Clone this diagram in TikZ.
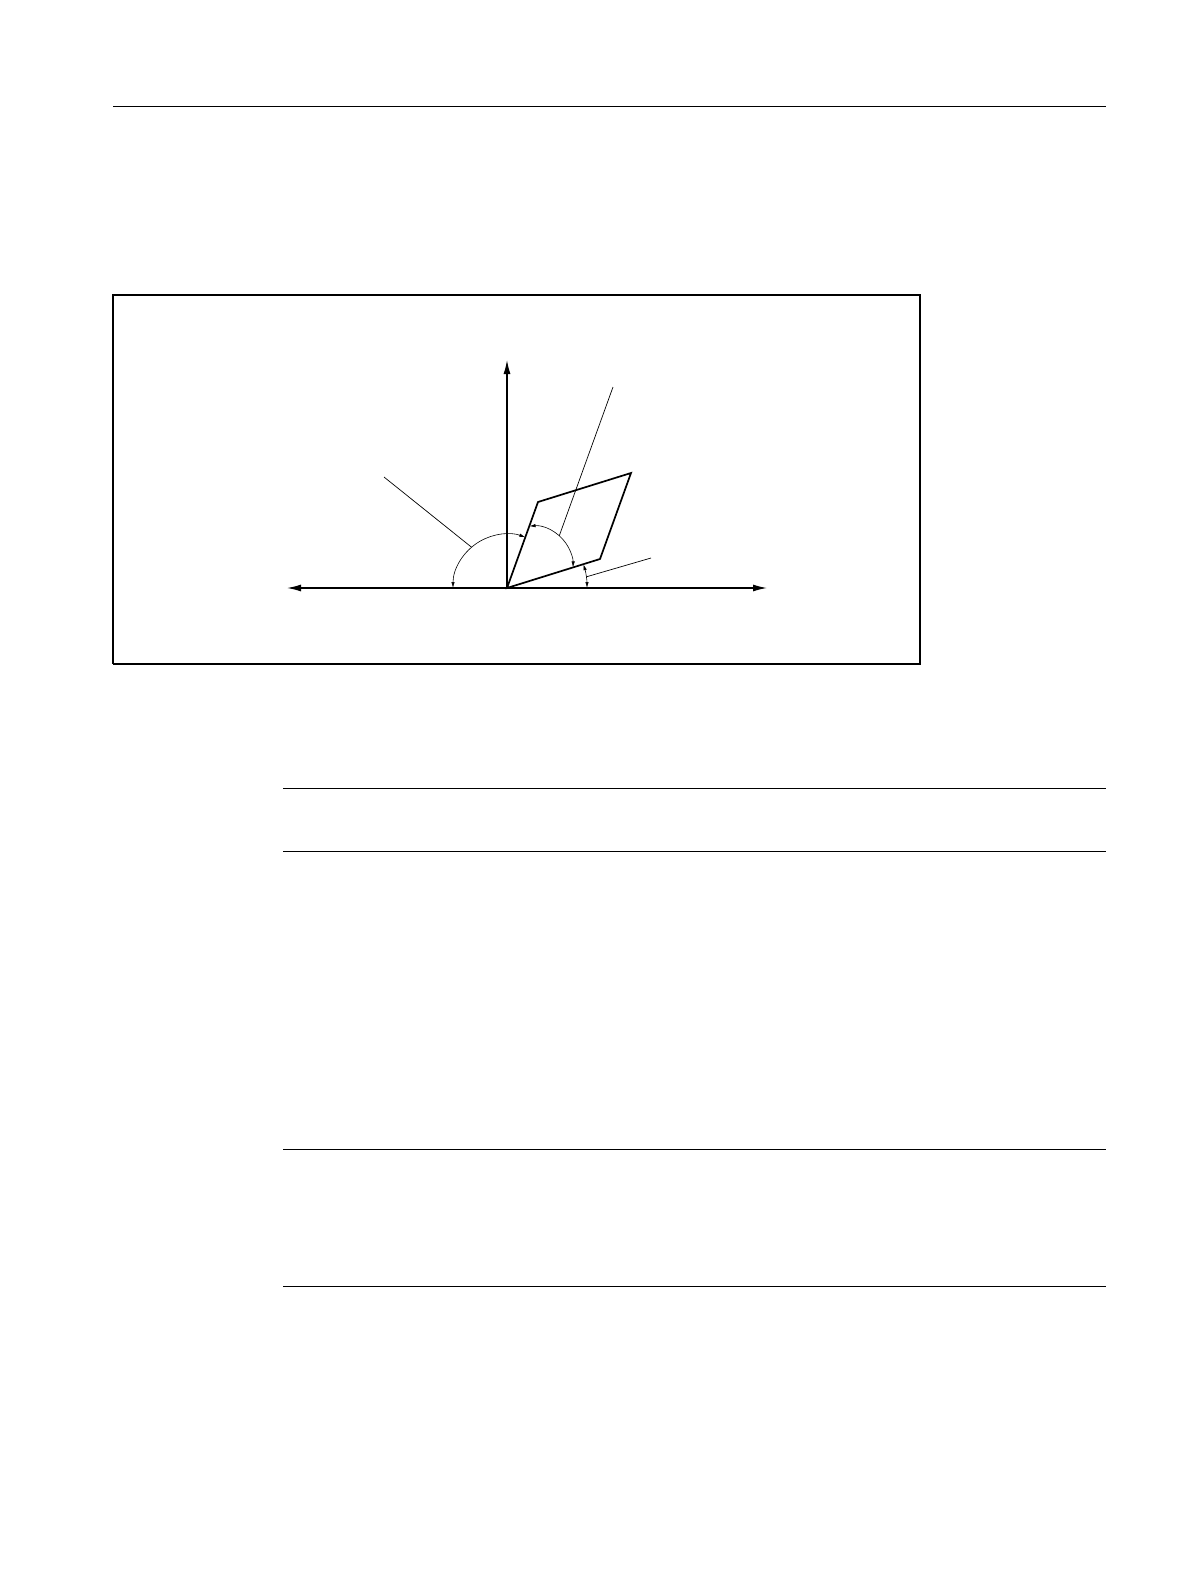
\documentclass[tikz,border=0pt]{standalone}
\usetikzlibrary{arrows.meta,calc}
\tikzset{>=latex}
\tikzset{
  bigtip/.tip = {Latex[length=14pt,width=7pt]},
  smalltip/.tip = {Latex[length=6pt,width=3.4pt]},
  rule/.style = {line width=1pt},
  axisline/.style = {line width=1.3pt},
  plate/.style = {line width=1.7pt, line join=miter},
  leader/.style = {line width=0.7pt},
  anglearc/.style = {line width=0.6pt, smalltip-smalltip}
}

\begin{document}
\begin{tikzpicture}[x=1pt,y=-1pt]
  \useasboundingbox (0,0) rectangle (1190,1584);
  % page rules
  \draw[rule] (113,107) -- (1106,107);
  \draw[rule] (283,788.5) -- (1106,788.5);
  \draw[rule] (283,851.5) -- (1106,851.5);
  \draw[rule] (283,1149.5) -- (1106,1149.5);
  \draw[rule] (283,1286) -- (1106,1286);
  % frame
  \draw[line width=1.1pt] (920,664) -- (920,295) -- (113,295) -- (113,664);
  \draw[line width=1.8pt] (112.5,664) -- (920.8,664);
  % axes
  \coordinate (O) at (507,588);
  \coordinate (L) at (287,588);
  \coordinate (R) at (767,588);
  \coordinate (T) at (507,360);
  \draw[axisline, bigtip-bigtip] (L) -- (R);
  \draw[axisline, -bigtip] (O) -- (T);
  % tilted plate
  \coordinate (A) at (538,502);
  \coordinate (C) at (600,559);
  \coordinate (B) at (631,473);
  \draw[plate] (O) -- (A) -- (B) -- (C) -- cycle;
  % angle arcs
  \coordinate (M) at (533,566);
  \draw[anglearc] (O) ++(180:54pt) arc[start angle=180, end angle=70.2, radius=54pt];
  \draw[anglearc] (M) ++(95:40pt) arc[start angle=95, end angle=-2, radius=40pt];
  \draw[anglearc] (O) ++(0:80pt) arc[start angle=0, end angle=17.3, radius=80pt];
  % leaders
  \coordinate (lw) at (384,477);
  \coordinate (ln) at (613,387);
  \coordinate (le) at (651,558);
  \draw[leader] (lw) -- ($(O)+(131:54pt)$);
  \draw[leader] (ln) -- ($(M)+(49:40pt)$);
  \draw[leader] (le) -- ($(O)+(8:80pt)$);
\end{tikzpicture}
\end{document}
